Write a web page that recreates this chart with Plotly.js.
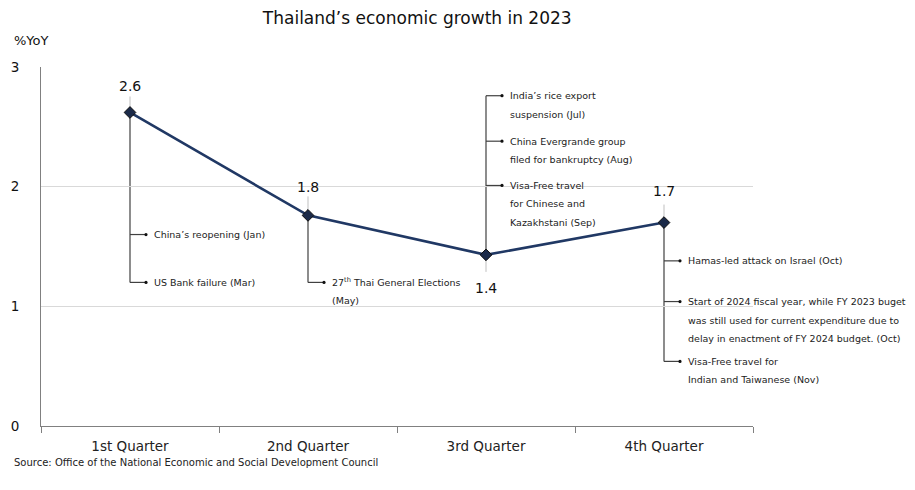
<!DOCTYPE html>
<html>
<head>
<meta charset="utf-8">
<script src="https://cdn.plot.ly/plotly-3.0.1.min.js"></script>
<style>html,body{margin:0;padding:0;background:#fff;}#chart{width:915px;height:490px;}</style>
</head>
<body>
<div id="chart"></div>
<script>
// ---- data ----
const quarters = ['1st Quarter', '2nd Quarter', '3rd Quarter', '4th Quarter'];
const growth = [2.62, 1.76, 1.43, 1.70];
const growthLabels = ['2.6', '1.8', '1.4', '1.7'];
const yTicks = [0, 1, 2, 3];

// events attached to each quarter
const eventQuarter = [0, 0, 1, 2, 2, 2, 3, 3, 3];
const eventLevel = [1.60, 1.20, 1.20, 2.76, 2.38, 2.01, 1.38, 1.04, 0.54];
const eventText = [
  ['China\u2019s reopening (Jan)'],
  ['US Bank failure (Mar)'],
  ['27<sup>th</sup> Thai General Elections', '(May)'],
  ['India\u2019s rice export', 'suspension (Jul)'],
  ['China Evergrande group', 'filed for bankruptcy (Aug)'],
  ['Visa-Free travel', 'for Chinese and', 'Kazakhstani (Sep)'],
  ['Hamas-led attack on Israel (Oct)'],
  ['Start of 2024 fiscal year, while FY 2023 buget', 'was still used for current expenditure due to', 'delay in enactment of FY 2024 budget. (Oct)'],
  ['Visa-Free travel for', 'Indian and Taiwanese (Nov)']
];

// ---- styling ----
const FONT = 'DejaVu Sans, Verdana, sans-serif';
const labelAbove = [true, true, false, true];
const labelGap = [26, 28, 33, 32];
const leaderFar = [16, 19, 17, 18];
const branchPx = 16;
const lineStep = 18.5;

const shapes = [];
const annotations = [];

// value labels + light leader lines
growth.forEach((v, i) => {
  const dir = labelAbove[i] ? 1 : -1;
  annotations.push({
    x: i, y: v, xref: 'x', yref: 'y', text: growthLabels[i], showarrow: false,
    yshift: dir * labelGap[i], font: {family: FONT, size: 14, color: '#111'}
  });
  shapes.push({type: 'line', xref: 'x', yref: 'y', ysizemode: 'pixel', yanchor: v,
    x0: i, x1: i, y0: 0, y1: dir * leaderFar[i], line: {color: '#bfbfbf', width: 1}, layer: 'below'});
});

// vertical connectors from each point to its furthest event
quarters.forEach((q, i) => {
  const lv = eventLevel.filter((_, k) => eventQuarter[k] === i);
  if (!lv.length) return;
  const far = lv.reduce((a, b) => Math.abs(b - growth[i]) > Math.abs(a - growth[i]) ? b : a);
  shapes.push({type: 'line', xref: 'x', yref: 'y', x0: i, x1: i, y0: growth[i], y1: far,
    line: {color: '#404040', width: 1.2}, layer: 'below'});
});

// branches, dots and texts
eventQuarter.forEach((qi, k) => {
  const y = eventLevel[k];
  shapes.push({type: 'line', xref: 'x', yref: 'y', xsizemode: 'pixel', xanchor: qi,
    x0: 0, x1: branchPx, y0: y, y1: y, line: {color: '#404040', width: 1.2}});
  shapes.push({type: 'circle', xref: 'x', yref: 'y', xsizemode: 'pixel', ysizemode: 'pixel',
    xanchor: qi, yanchor: y, x0: branchPx - 1.6, x1: branchPx + 1.6, y0: -1.6, y1: 1.6,
    fillcolor: '#111', line: {width: 0}});
  eventText[k].forEach((t, j) => {
    annotations.push({
      x: qi, y: y, xref: 'x', yref: 'y', xanchor: 'left', yanchor: 'middle',
      xshift: branchPx + 6, yshift: -j * lineStep, text: t, showarrow: false, align: 'left',
      font: {family: FONT, size: 9.5, color: '#222'}
    });
  });
});

// y-axis unit label and source
annotations.push({xref: 'paper', yref: 'paper', x: -0.041, y: 1.075, xanchor: 'left', yanchor: 'middle',
  text: '%YoY', showarrow: false, font: {family: FONT, size: 13, color: '#111'}});
annotations.push({xref: 'paper', yref: 'paper', x: -0.041, y: -0.1015, xanchor: 'left', yanchor: 'middle',
  text: 'Source: Office of the National Economic and Social Development Council', showarrow: false,
  font: {family: FONT, size: 10, color: '#222'}});

const trace = {
  x: quarters, y: growth, type: 'scatter', mode: 'lines+markers',
  line: {color: '#203864', width: 2.6},
  marker: {symbol: 'diamond', size: 9, color: '#1b2a49', line: {color: '#111', width: 1}},
  hoverinfo: 'x+y', cliponaxis: false
};

const layout = {
  width: 915, height: 490,
  margin: {l: 41, r: 162, t: 67, b: 63.5},
  paper_bgcolor: '#fff', plot_bgcolor: '#fff',
  showlegend: false,
  title: {text: 'Thailand\u2019s economic growth in 2023', x: 0.456, xanchor: 'center', y: 0.963, yanchor: 'middle',
    font: {family: FONT, size: 17, color: '#111'}},
  xaxis: {
    type: 'category', tickson: 'boundaries', ticks: 'outside', ticklen: 6, tickcolor: '#808080',
    showline: true, linecolor: '#808080', linewidth: 1, showgrid: false, zeroline: false,
    ticklabelstandoff: 8,
    tickfont: {family: FONT, size: 13.5, color: '#222'}, range: [-0.5, 3.5]
  },
  yaxis: {
    range: [0, 3], tickvals: yTicks, ticktext: yTicks.map(String), showline: true, linecolor: '#808080',
    linewidth: 1, showgrid: true, gridcolor: '#d9d9d9', gridwidth: 1, zeroline: false, ticks: '',
    ticklabelstandoff: 18, tickfont: {family: FONT, size: 13.5, color: '#111'}
  },
  shapes: shapes,
  annotations: annotations
};

Plotly.newPlot('chart', [trace], layout, {displayModeBar: false, staticPlot: true});
</script>
</body>
</html>
